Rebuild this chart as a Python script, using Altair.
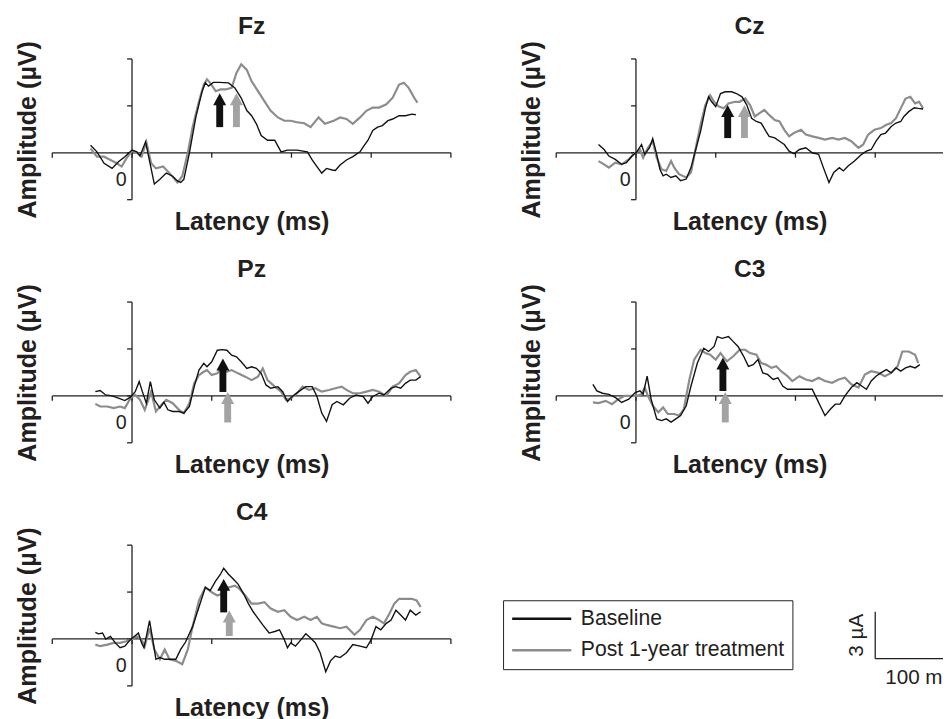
import altair as alt
import pandas as pd

FONT = "Liberation Sans"
INK = "#231f20"
BASE_COLOR = "#111111"
POST_COLOR = "#8c8c8c"
ARROW_BLACK = "#111111"
ARROW_GRAY = "#a3a3a3"

SERIES = ["Baseline", "Post 1-year treatment"]
X_TICKS = [-100, 0, 100, 200, 300, 400]
Y_TICKS = [-3, 0, 3, 6]
SCALE_MS = 100
SCALE_UV = 3

# (latency ms, amplitude uV)
FZ_BASELINE = [(-52, 0.48), (-44, 0.06), (-35, -0.67), (-25, -1.0), (-17, -0.57), (-9, -0.25), (0, 0.17), (6, 0.06),
               (10, -0.2), (17, 0.7), (28, -2.0), (35, -1.7), (43, -1.3), (51, -1.5), (57, -1.8), (61, -1.9), (65, -1.7),
               (72, 0.0), (80, 2.26), (88, 3.94), (92, 4.47), (96, 4.26), (102, 4.5), (109, 4.5), (121, 4.47),
               (129, 4.15), (137, 3.5), (144, 2.7), (150, 2.37), (156, 1.85), (162, 1.1), (170, 0.8), (179, 0.8),
               (187, 0.06), (195, 0.17), (207, 0.17), (220, 0.06), (226, -0.46), (232, -0.88), (238, -1.3), (244, -1.0),
               (251, -1.1), (255, -1.13), (261, -0.78), (269, -0.46), (277, -0.25), (286, 0.06), (290, 0.38), (296, 0.8),
               (302, 1.43), (308, 1.64), (314, 1.74), (321, 2.05), (327, 2.16), (335, 2.37), (343, 2.37), (351, 2.47),
               (356, 2.43)]
FZ_POST = [(-52, 0.27), (-44, -0.25), (-35, -0.25), (-27, -0.46), (-19, -0.67), (-13, -0.88), (-7, -0.36), (0, 0.13),
           (6, 0.0), (12, -0.25), (18, 0.69), (24, -0.67), (30, -1.0), (39, -0.88), (47, -1.3), (57, -1.9), (63, -1.5),
           (70, 0.0), (76, 1.64), (84, 3.3), (90, 4.36), (94, 4.7), (98, 4.47), (105, 3.94), (111, 4.05), (117, 4.05),
           (125, 4.15), (131, 5.1), (137, 5.66), (144, 5.3), (150, 4.57), (158, 3.94), (166, 3.3), (174, 2.68),
           (183, 2.26), (191, 2.05), (199, 2.05), (207, 1.95), (216, 1.89), (224, 1.64), (234, 2.26), (242, 1.85),
           (253, 2.05), (261, 2.26), (269, 2.16), (277, 1.85), (286, 2.26), (294, 2.68), (302, 2.89), (310, 2.89),
           (319, 3.1), (327, 3.52), (335, 4.36), (341, 4.47), (347, 4.15), (354, 3.52), (358, 3.2)]

CZ_BASELINE = [(-47, 0.53), (-40, 0.21), (-34, -0.21), (-26, -0.42), (-18, -0.74), (-12, -0.63), (-5, -0.21), (1, 0.06),
               (7, 0.53), (11, -0.1), (17, 0.32), (21, 0.9), (26, -0.1), (30, -1.05), (34, -1.47), (38, -1.37),
               (44, -1.58), (50, -1.47), (56, -1.79), (63, -1.68), (69, -0.95), (75, 0.21), (81, 1.37), (87, 2.84),
               (91, 3.58), (95, 3.26), (100, 2.95), (106, 3.79), (112, 3.9), (120, 3.9), (126, 3.79), (133, 3.58),
               (139, 3.05), (145, 2.21), (151, 2.0), (157, 1.9), (163, 1.37), (167, 1.05), (174, 0.95), (180, 0.74),
               (186, 0.53), (192, 0.1), (198, -0.06), (205, 0.21), (213, 0.32), (221, 0.0), (229, -0.1), (235, -0.95),
               (242, -1.9), (248, -1.26), (255, -0.95), (260, -1.16), (266, -0.84), (274, -0.53), (283, -0.1),
               (289, 0.1), (295, 0.21), (301, 0.74), (307, 1.16), (313, 1.26), (320, 1.68), (326, 1.9), (332, 2.0),
               (336, 2.32), (342, 2.63), (349, 2.88), (354, 2.84), (360, 2.8)]
CZ_POST = [(-47, -0.53), (-40, -0.74), (-34, -0.95), (-26, -0.63), (-18, -0.74), (-9, -0.42), (-1, 0.0), (5, 0.21),
           (9, -0.32), (15, 0.32), (21, 0.74), (26, -0.32), (32, -1.05), (38, -1.16), (44, -0.53), (48, -0.95),
           (54, -1.37), (63, -1.58), (69, -1.26), (75, 0.32), (81, 1.79), (87, 3.05), (93, 3.68), (98, 3.26),
           (104, 2.95), (110, 2.84), (116, 3.16), (124, 3.26), (130, 3.26), (137, 3.47), (143, 3.05), (149, 2.32),
           (155, 2.53), (161, 2.74), (167, 2.42), (174, 2.1), (180, 2.0), (186, 1.47), (192, 1.05), (198, 1.26),
           (207, 1.47), (213, 1.16), (221, 1.05), (229, 0.95), (237, 0.84), (246, 0.95), (254, 0.84), (262, 0.95),
           (270, 0.74), (279, 0.32), (285, 0.53), (291, 1.16), (299, 1.47), (307, 1.58), (314, 1.79), (320, 1.9),
           (326, 2.21), (332, 2.84), (338, 3.47), (344, 3.58), (350, 3.16), (355, 3.26), (360, 2.84)]

PZ_BASELINE = [(-46, 0.27), (-40, 0.34), (-33, 0.06), (-25, 0.0), (-17, -0.15), (-9, -0.3), (-2, -0.08), (4, 0.27),
               (9, 0.91), (13, 0.27), (18, -0.47), (23, 0.91), (28, -0.25), (35, -0.78), (40, -0.4), (45, -0.89),
               (51, -1.0), (59, -1.0), (65, -1.1), (72, -0.68), (78, 0.59), (84, 1.65), (90, 2.08), (94, 1.86),
               (100, 2.18), (107, 2.92), (113, 2.96), (119, 2.92), (125, 2.6), (131, 2.5), (137, 2.18), (144, 1.76),
               (150, 1.86), (156, 1.76), (162, 1.44), (168, 0.7), (174, 0.49), (183, 0.59), (189, 0.27), (195, -0.36),
               (201, -0.04), (209, 0.27), (218, 0.59), (226, 0.59), (232, -0.04), (238, -1.1), (244, -1.63),
               (251, -0.57), (257, -0.36), (265, -0.57), (273, -0.15), (281, 0.06), (290, -0.04), (296, -0.47),
               (302, -0.04), (310, 0.17), (316, 0.06), (325, 0.49), (331, 0.59), (337, 0.49), (343, 0.8), (349, 1.01),
               (356, 1.01), (362, 1.23)]
PZ_POST = [(-46, -0.51), (-40, -0.68), (-31, -0.68), (-23, -0.78), (-15, -0.68), (-9, -0.78), (-2, -0.15), (4, 0.06),
           (10, -0.25), (16, -0.89), (24, 0.27), (30, -1.0), (37, -0.57), (43, -0.25), (51, -0.47), (59, -0.89),
           (65, -1.1), (72, -0.47), (78, 0.8), (84, 1.33), (90, 1.54), (94, 1.65), (100, 1.33), (107, 1.44),
           (113, 1.76), (119, 1.54), (125, 1.65), (133, 1.44), (142, 1.23), (150, 1.01), (158, 1.23), (164, 1.76),
           (170, 1.01), (179, 0.59), (187, 0.27), (193, -0.25), (199, -0.15), (207, 0.17), (214, 0.59), (222, 0.38),
           (230, 0.49), (238, 0.27), (247, 0.38), (255, 0.49), (263, 0.59), (269, 0.38), (277, 0.17), (286, 0.17),
           (294, 0.27), (302, 0.38), (310, 0.27), (319, 0.0), (327, 0.59), (335, 0.8), (343, 1.33), (349, 1.54),
           (356, 1.65), (362, 1.23)]

C3_BASELINE = [(-54, 0.74), (-49, 0.32), (-42, 0.17), (-34, 0.1), (-26, -0.1), (-18, -0.42), (-9, -0.21), (-1, 0.21),
               (5, 0.32), (9, 0.1), (14, 1.26), (19, -0.21), (26, -1.47), (32, -1.58), (38, -1.47), (44, -1.68),
               (50, -1.47), (56, -1.26), (63, -0.63), (69, 0.63), (77, 2.1), (85, 3.05), (91, 2.84), (98, 3.16),
               (102, 3.79), (108, 3.68), (116, 3.79), (122, 3.47), (128, 3.16), (135, 2.53), (141, 1.89), (147, 2.0),
               (153, 2.32), (159, 1.47), (165, 1.37), (172, 1.05), (178, 1.16), (184, 0.63), (190, 0.42), (196, 0.42),
               (205, 0.42), (213, 0.42), (221, 0.42), (227, -0.21), (231, -0.63), (237, -1.26), (244, -0.84),
               (250, -0.53), (256, -0.53), (262, 0.0), (270, 0.53), (277, 0.84), (283, 0.63), (289, 0.42), (295, 0.95),
               (301, 1.26), (307, 1.47), (314, 1.68), (320, 1.47), (326, 1.79), (332, 1.58), (338, 1.79), (344, 1.89),
               (350, 1.79), (356, 2.0)]
C3_POST = [(-54, -0.42), (-47, -0.46), (-38, -0.32), (-30, -0.53), (-22, -0.21), (-14, 0.0), (-5, 0.0), (1, 0.0),
           (7, 0.1), (11, 0.53), (15, 0.0), (21, -0.63), (28, -1.05), (34, -0.74), (40, -1.16), (48, -1.16),
           (54, -1.26), (60, -0.84), (67, 1.05), (73, 2.32), (81, 2.95), (87, 2.74), (93, 2.63), (100, 2.32),
           (106, 2.74), (114, 2.21), (122, 2.53), (130, 2.95), (137, 2.95), (143, 2.74), (151, 2.63), (157, 2.1),
           (163, 2.0), (170, 1.79), (176, 1.89), (182, 1.58), (190, 1.26), (196, 0.95), (205, 1.26), (213, 1.05),
           (221, 0.95), (229, 1.16), (237, 0.95), (246, 0.84), (254, 1.05), (262, 1.16), (270, 0.74), (279, 0.53),
           (287, 1.37), (295, 1.58), (304, 1.47), (312, 1.26), (320, 1.47), (328, 1.89), (334, 2.84), (342, 2.84),
           (350, 2.63), (354, 2.1)]

C4_BASELINE = [(-46, 0.42), (-42, 0.33), (-37, 0.38), (-33, 0.0), (-27, 0.17), (-21, -0.25), (-15, -0.56), (-9, -0.46),
               (-2, -0.04), (4, 0.21), (8, 0.38), (12, -0.25), (15, -0.56), (18, 0.17), (22, 1.17), (26, -0.04),
               (30, -1.3), (35, -1.19), (41, -1.3), (49, -1.3), (55, -1.3), (61, -0.67), (67, -0.21), (76, 0.79),
               (84, 2.05), (92, 3.3), (98, 3.1), (105, 3.72), (111, 4.14), (115, 4.52), (121, 4.14), (127, 3.83),
               (133, 3.51), (140, 2.89), (146, 2.26), (152, 1.74), (158, 1.32), (164, 0.9), (172, 0.38), (179, 0.48),
               (185, 0.59), (191, -0.04), (195, -0.56), (199, -0.25), (205, -0.46), (212, -0.04), (218, 0.33),
               (224, 0.06), (230, -0.25), (236, -0.88), (243, -2.09), (249, -1.4), (255, -1.09), (261, -1.19),
               (269, -0.88), (277, -0.36), (286, -0.46), (294, -0.56), (300, -0.04), (306, 0.79), (312, 0.59),
               (319, 1.0), (325, 1.21), (331, 1.84), (337, 1.53), (343, 1.21), (349, 1.84), (356, 1.53), (362, 1.74)]
C4_POST = [(-46, -0.36), (-40, -0.46), (-31, -0.36), (-23, -0.25), (-15, -0.25), (-7, -0.15), (0, 0.0), (6, 0.17),
           (12, -0.04), (16, -0.46), (22, 0.69), (28, -0.67), (35, -1.3), (41, -0.67), (47, -1.3), (55, -1.4),
           (63, -1.61), (70, -0.67), (76, 0.79), (84, 2.47), (92, 3.3), (100, 2.99), (107, 2.78), (113, 2.89),
           (121, 3.3), (129, 3.41), (135, 3.2), (142, 2.78), (150, 2.26), (158, 2.26), (166, 2.36), (174, 1.95),
           (183, 1.74), (191, 1.84), (199, 1.42), (207, 1.21), (216, 1.42), (224, 1.21), (232, 1.42), (238, 1.0),
           (244, 0.9), (253, 0.79), (261, 0.69), (269, 0.79), (275, 0.48), (279, 0.27), (286, 0.59), (294, 1.21),
           (302, 1.42), (310, 1.21), (316, 1.0), (323, 1.63), (329, 2.26), (335, 2.57), (343, 2.57), (351, 2.57),
           (357, 2.47), (362, 2.05)]

# panel, series, latency (ms), arrow tip (uV), arrow tail (uV)
ARROWS = [
    ("Fz", "Baseline", 110, 3.8, 1.64),
    ("Fz", "Post 1-year treatment", 131, 3.8, 1.64),
    ("Cz", "Baseline", 115, 3.05, 0.94),
    ("Cz", "Post 1-year treatment", 136, 3.05, 0.94),
    ("Pz", "Baseline", 114, 2.39, 0.25),
    ("Pz", "Post 1-year treatment", 120, 0.25, -1.7),
    ("C3", "Baseline", 109, 2.45, 0.31),
    ("C3", "Post 1-year treatment", 112, 0.25, -1.7),
    ("C4", "Baseline", 115, 3.84, 1.7),
    ("C4", "Post 1-year treatment", 122, 1.82, 0.19),
]

PANEL_DATA = {
    "Fz": (FZ_BASELINE, FZ_POST),
    "Cz": (CZ_BASELINE, CZ_POST),
    "Pz": (PZ_BASELINE, PZ_POST),
    "C3": (C3_BASELINE, C3_POST),
    "C4": (C4_BASELINE, C4_POST),
}

# scale bar anchor (ms, uV) in the legend cell
SCALEBAR_AT = (300, -1.26)

PX_PER_MS = 0.81
PLOT_H = 143
ARROW_HEAD = "M0,0L0.6,1.1L-0.6,1.1Z"

color_scale = alt.Scale(domain=SERIES, range=[BASE_COLOR, POST_COLOR])
legend = alt.Legend(
    title=None, orient="none", legendX=458, legendY=550, direction="vertical",
    symbolType="M-5,0L5,0", symbolSize=144, symbolStrokeWidth=2.5,
    symbolOffset=20.5, labelOffset=29,
    labelFont=FONT, labelFontSize=21.5, labelColor=INK, labelLimit=400,
    strokeColor=INK, padding=8, rowPadding=9,
)


def axes(visible=True):
    op = 1 if visible else 0
    xax = alt.Axis(title="Latency (ms)" if visible else " ", domain=False, ticks=False, labels=False, grid=False,
                   titleFont=FONT, titleFontSize=25.5, titleFontWeight="bold", titleColor=INK,
                   titlePadding=10, titleOpacity=op)
    yax = alt.Axis(title="Amplitude (µV)" if visible else " ", domain=False, ticks=False, labels=False, grid=False,
                   titleFont=FONT, titleFontSize=25.5, titleFontWeight="bold", titleColor=INK,
                   titlePadding=12, titleOpacity=op)
    return xax, yax


def title(name, visible=True):
    return alt.TitleParams(name if visible else " ", font=FONT, fontSize=25, fontWeight="bold",
                           color=INK if visible else "rgba(0,0,0,0)", offset=2)


one = pd.DataFrame({"k": [0]})


def panel(name, right):
    xmax = 385 if right else 400
    width = round((xmax + 100) * PX_PER_MS)
    xs = alt.Scale(domain=[-100, xmax], nice=False, zero=False)
    ys = alt.Scale(domain=[-3, 6], nice=False, zero=False)
    xax, yax = axes()

    base_pts, post_pts = PANEL_DATA[name]
    rows = [{"series": SERIES[0], "ms": m, "uv": v} for m, v in base_pts]
    rows += [{"series": SERIES[1], "ms": m, "uv": v} for m, v in post_pts]
    waves = pd.DataFrame(rows)
    arrows = pd.DataFrame([a for a in ARROWS if a[0] == name],
                          columns=["panel", "series", "ms", "tip", "tail"])
    xt = pd.DataFrame({"t": [t for t in X_TICKS if t <= xmax]})
    yt = pd.DataFrame({"t": Y_TICKS})

    def X(f=None, **kw):
        if f is None:
            return alt.X(scale=xs, axis=xax, **kw)
        return alt.X(f, scale=xs, axis=xax, **kw)

    def Y(f=None, **kw):
        if f is None:
            return alt.Y(scale=ys, axis=yax, **kw)
        return alt.Y(f, scale=ys, axis=yax, **kw)

    xline = alt.Chart(one).mark_rule(color=INK, strokeWidth=1.3).encode(
        x=X(datum=-100), x2=alt.X2(datum=xmax), y=Y(datum=0))
    yline = alt.Chart(one).mark_rule(color=INK, strokeWidth=1.3).encode(
        x=X(datum=0), y=Y(datum=-3), y2=alt.Y2(datum=6))
    xticks = alt.Chart(xt).mark_rule(color=INK, strokeWidth=1.3, y2Offset=5).encode(
        x=X("t:Q"), y=Y(datum=0), y2=alt.Y2(datum=0))
    yticks = alt.Chart(yt).mark_rule(color=INK, strokeWidth=1.3, x2Offset=-5).encode(
        y=Y("t:Q"), x=X(datum=0), x2=alt.X2(datum=0))

    def wave(series, sw):
        return alt.Chart(waves).transform_filter(alt.datum.series == series).mark_line(
            strokeWidth=sw).encode(
            x=X("ms:Q"), y=Y("uv:Q"),
            color=alt.Color("series:N", scale=color_scale, legend=legend))

    def arrow(series, col):
        src = alt.Chart(arrows).transform_filter(alt.datum.series == series)
        shaft = src.mark_rule(color=col, strokeWidth=7, y2Offset=11).encode(
            x=X("ms:Q"), y=Y("tail:Q"), y2=alt.Y2("tip:Q"))
        head = src.mark_point(shape=ARROW_HEAD, size=484, filled=True, color=col,
                              opacity=1, strokeWidth=0).encode(x=X("ms:Q"), y=Y("tip:Q"))
        return [shaft, head]

    zero = alt.Chart(one).mark_text(text="0", font=FONT, fontSize=20, color=INK, dx=-11, dy=28).encode(
        x=X(datum=0), y=Y(datum=0))

    layers = [xline, yline, xticks, yticks, wave(SERIES[1], 2.2), wave(SERIES[0], 1.4)]
    layers += arrow(SERIES[0], ARROW_BLACK) + arrow(SERIES[1], ARROW_GRAY) + [zero]
    return alt.layer(*layers).properties(width=width, height=PLOT_H, title=title(name))


def scale_cell():
    xmax = 385
    width = round((xmax + 100) * PX_PER_MS)
    xs = alt.Scale(domain=[-100, xmax], nice=False, zero=False)
    ys = alt.Scale(domain=[-3, 6], nice=False, zero=False)
    xax, yax = axes(visible=False)
    x0, y0 = SCALEBAR_AT
    bar = pd.DataFrame({"x0": [x0], "x1": [x0 + SCALE_MS], "xm": [x0 + SCALE_MS / 2],
                        "y0": [y0], "y1": [y0 + SCALE_UV], "ym": [y0 + SCALE_UV / 2]})
    c = alt.Chart(bar)
    v = c.mark_rule(color=INK, strokeWidth=1.3).encode(
        x=alt.X("x0:Q", scale=xs, axis=xax), y=alt.Y("y0:Q", scale=ys, axis=yax), y2="y1:Q")
    h = c.mark_rule(color=INK, strokeWidth=1.3, clip=True).encode(
        x=alt.X("x0:Q", scale=xs, axis=xax), x2="x1:Q", y=alt.Y("y0:Q", scale=ys, axis=yax))
    tv = c.mark_text(text="3 µA", font=FONT, fontSize=21, color=INK, angle=270, dy=-18).encode(
        x=alt.X("x0:Q", scale=xs, axis=xax), y=alt.Y("ym:Q", scale=ys, axis=yax))
    th = c.mark_text(text="100 ms", font=FONT, fontSize=21, color=INK, dx=4, dy=20, clip=True).encode(
        x=alt.X("xm:Q", scale=xs, axis=xax), y=alt.Y("y0:Q", scale=ys, axis=yax))
    return alt.layer(v, h, tv, th).properties(width=width, height=PLOT_H, title=title("C4", visible=False))


chart = alt.concat(
    panel("Fz", False), panel("Cz", True),
    panel("Pz", False), panel("C3", True),
    panel("C4", False), scale_cell(),
    columns=2, spacing={"row": 22, "column": 68},
).properties(
    padding={"left": 7, "top": 0, "right": 0, "bottom": 0}
).configure_view(strokeWidth=0)

chart.save("out.html", embed_options={"renderer": "svg", "actions": False})
